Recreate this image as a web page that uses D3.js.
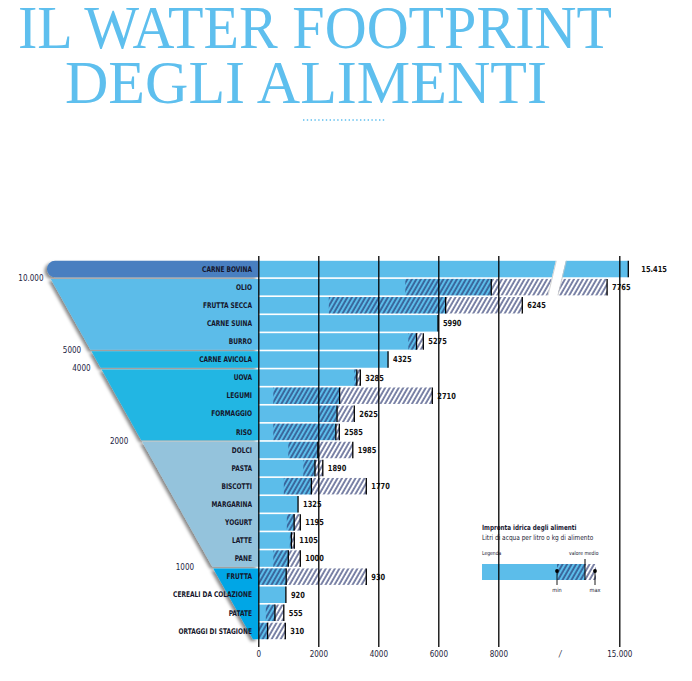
<!DOCTYPE html>
<html>
<head>
<meta charset="utf-8">
<script src="https://cdn.jsdelivr.net/npm/d3@7"></script>
<style>
  body { margin: 0; background: #fff; }
  svg { display: block; }
</style>
</head>
<body>
<div id="chart"></div>
<script>
// Water footprint degli alimenti – litri di acqua per litro o kg di alimento

const FOODS = [
  "CARNE BOVINA", "OLIO", "FRUTTA SECCA", "CARNE SUINA", "BURRO", "CARNE AVICOLA",
  "UOVA", "LEGUMI", "FORMAGGIO", "RISO", "DOLCI", "PASTA", "BISCOTTI", "MARGARINA",
  "YOGURT", "LATTE", "PANE", "FRUTTA", "CEREALI DA COLAZIONE", "PATATE", "ORTAGGI DI STAGIONE"
];
// valore medio
const MEDIO = [15415, 7765, 6245, 5990, 5275, 4325, 3285, 2710, 2625, 2585, 1985, 1890, 1770,
               1325, 1195, 1105, 1000, 930, 920, 555, 310];
// min / max (null = nessuna forbice)
const MIN_V = [null, 4900, 2350, null, 5000, null, 3200, 500, 2000, 500, 1000, 1500, 850,
               null, 950, 1050, 500, 0, null, 250, 20];
const MAX_V = [null, 14000, 8800, null, 5500, null, 3400, 5800, 3200, 2700, 3150, 2150, 3600,
               null, 1400, 1200, 1400, 3600, null, 850, 900];

const AXIS_TICKS = [0, 2000, 4000, 6000, 8000, 15000];

// imbuto a sinistra: riga di inizio di ogni fascia, colore, soglia
const FUNNEL_START  = [0, 1, 5, 6, 10, 17];
const FUNNEL_COLORS = ["#4a7fc0", "#5bbce9", "#22b6e3", "#22b6e3", "#94c3dc", "#00a6e6"];
const FUNNEL_LABELS = [null, "10.000", "5000", "4000", "2000", "1000"];

const TITLE = ["IL WATER FOOTPRINT", "DEGLI ALIMENTI"];

const BAR_BLUE = "#5cbdea";
const HATCH = "#24316c";
const SANS = "'Liberation Sans Narrow','DejaVu Sans Condensed','Roboto Condensed',Roboto,sans-serif";

const itFmt = d3.formatLocale({ decimal: ",", thousands: ".", grouping: [3], currency: ["€", ""] }).format(",");
const fmt = v => v >= 10000 ? itFmt(v) : String(v);

const W = 692, H = 681;
const svg = d3.select("#chart").append("svg").attr("width", W).attr("height", H);

// testo "condensato": scala orizzontale attorno al punto di ancoraggio
const narrow = (sel, sx) => sel.attr("transform", function () {
  const t = d3.select(this);
  const tx = +t.attr("x"), ty = +t.attr("y");
  return `translate(${tx},${ty}) scale(${sx},1) translate(${-tx},${-ty})`;
});

/* ── defs: hatch + shadow ── */
const defs = svg.append("defs");
defs.append("pattern").attr("id", "hatch").attr("patternUnits", "userSpaceOnUse")
  .attr("width", 3.9).attr("height", 6).attr("patternTransform", "rotate(30)")
  .append("line").attr("x1", 1).attr("x2", 1).attr("y1", 0).attr("y2", 6)
  .attr("stroke", HATCH).attr("stroke-width", 1.2);
const sh = defs.append("filter").attr("id", "shadow").attr("x", "-10%").attr("y", "-10%")
  .attr("width", "120%").attr("height", "120%");
sh.append("feDropShadow").attr("dx", -2.5).attr("dy", 2).attr("stdDeviation", 1.8)
  .attr("flood-color", "#000").attr("flood-opacity", 0.45);

/* ── title ── */
const title = svg.append("g").attr("font-family", "'Liberation Serif','DejaVu Serif',serif")
  .attr("fill", "#5ebfee").attr("font-size", 61);
title.append("text").attr("x", 18).attr("y", 48).attr("textLength", 594)
  .attr("lengthAdjust", "spacingAndGlyphs").text(TITLE[0]);
title.append("text").attr("x", 65).attr("y", 103).attr("textLength", 482)
  .attr("lengthAdjust", "spacingAndGlyphs").text(TITLE[1]);
svg.append("line").attr("x1", 303).attr("x2", 386).attr("y1", 120).attr("y2", 120)
  .attr("stroke", "#5ebfee").attr("stroke-width", 1.6).attr("stroke-dasharray", "1.4 2.4");

/* ── scales ── */
const x = d3.scaleLinear()               // asse spezzato dopo 10.000
  .domain([0, 10000, 15000, 16000])
  .range([258.3, 558.3, 619.3, 641]);
const y = d3.scaleBand().domain(FOODS).range([260, 640]).paddingInner(0.09).paddingOuter(0.045);
const bw = y.bandwidth();

const rows = FOODS.map((f, i) => ({ food: f, medio: MEDIO[i], min: MIN_V[i], max: MAX_V[i] }));

/* ── funnel ── */
const edgeX = yy => 52 + (yy - 281) * 0.561;
const labelX = yy => 44 + (yy - 279) * 0.52;
const funnel = svg.append("g").attr("filter", "url(#shadow)");
FUNNEL_START.forEach((start, gi) => {
  const end = gi + 1 < FUNNEL_START.length ? FUNNEL_START[gi + 1] : FOODS.length;
  const top = y(FOODS[start]);
  const bot = y(FOODS[end - 1]) + bw;
  const x0 = x(0);
  let d;
  if (gi === 0) {
    const r = 8, l = 47;
    d = `M${x0},${top}H${l + r}A${r},${r} 0 0 0 ${l},${top + r}V${bot - r}A${r},${r} 0 0 0 ${l + r},${bot}H${x0}Z`;
  } else {
    d = `M${edgeX(top)},${top}H${x0}V${bot}H${edgeX(bot)}Z`;
  }
  funnel.append("path").attr("d", d).attr("fill", FUNNEL_COLORS[gi]);
});
// soglie
FUNNEL_START.forEach((start, gi) => {
  if (!FUNNEL_LABELS[gi]) return;
  const yy = y(FOODS[start]) - (y.step() - bw) / 2;
  svg.append("text").attr("x", labelX(yy)).attr("y", yy).attr("dy", "0.35em")
    .attr("text-anchor", "end").attr("font-family", SANS).attr("font-size", 8)
    .attr("fill", "#23233f").text(FUNNEL_LABELS[gi]);
});

/* ── food labels ── */
svg.append("g").attr("font-family", SANS).attr("font-size", 7.8).attr("font-weight", "bold")
  .attr("fill", "#15152a").attr("text-anchor", "end")
  .selectAll("text").data(rows).join("text")
  .attr("x", 252).attr("y", d => y(d.food) + bw / 2 + 2.7)
  .text(d => d.food)
  .call(narrow, 0.84);

/* ── bars ── */
const bars = svg.append("g");
rows.forEach(d => {
  const yy = y(d.food);
  bars.append("rect").attr("x", x(0)).attr("y", yy).attr("width", x(d.medio) - x(0))
    .attr("height", bw).attr("fill", BAR_BLUE);
  if (d.min != null) {
    bars.append("rect").attr("x", x(d.min)).attr("y", yy).attr("width", x(d.medio) - x(d.min))
      .attr("height", bw).attr("fill", "url(#hatch)");
    bars.append("rect").attr("x", x(d.medio)).attr("y", yy).attr("width", x(d.max) - x(d.medio))
      .attr("height", bw).attr("fill", "url(#hatch)");
    bars.append("line").attr("x1", x(d.max)).attr("x2", x(d.max))
      .attr("y1", yy).attr("y2", yy + bw).attr("stroke", "#000").attr("stroke-width", 1.3);
  }
  bars.append("line").attr("x1", x(d.medio)).attr("x2", x(d.medio))
    .attr("y1", yy).attr("y2", yy + bw).attr("stroke", "#000").attr("stroke-width", 1.3);
});

/* ── break in scale ── */
const yb0 = y(FOODS[0]) - 2, yb1 = y(FOODS[1]) + bw + 1, xb = x(10000) - 2;
svg.append("path")
  .attr("d", `M${xb},${yb0}L${xb + 10},${yb0}L${xb + 1},${yb1}L${xb - 9},${yb1}Z`)
  .attr("fill", "#fff");
svg.append("g").attr("stroke", "#c8c8c8").attr("stroke-width", 0.8)
  .selectAll("line").data([0, 10]).join("line")
  .attr("x1", o => xb + o).attr("y1", y(FOODS[0]))
  .attr("x2", o => xb + o - 9 * (bw + y.step()) / (yb1 - yb0)).attr("y2", y(FOODS[1]) + bw);

/* ── value labels ── */
svg.append("g").attr("font-family", SANS).attr("font-size", 8.4).attr("font-weight", "bold")
  .attr("fill", "#111")
  .selectAll("text").data(rows).join("text")
  .attr("x", d => x(d.max != null ? d.max : d.medio) + (d.medio >= 10000 ? 13 : 5))
  .attr("y", d => y(d.food) + bw / 2 + 2.9)
  .text(d => fmt(d.medio))
  .call(narrow, 0.88);

/* ── legend ── */
const lg = svg.append("g").attr("font-family", SANS).attr("fill", "#1a1a33");
lg.append("text").attr("x", 482).attr("y", 530).attr("font-size", 7.2).attr("font-weight", "bold")
  .text("Impronta idrica degli alimenti").call(narrow, 0.87);
lg.append("text").attr("x", 482).attr("y", 540).attr("font-size", 7.2)
  .text("Litri di acqua per litro o kg di alimento").call(narrow, 0.9);
lg.append("text").attr("x", 482).attr("y", 555).attr("font-size", 5.6).text("Legenda").call(narrow, 0.9);
lg.append("text").attr("x", 569).attr("y", 555).attr("font-size", 5.6).text("valore medio").call(narrow, 0.9);
lg.append("rect").attr("x", 482).attr("y", 564).attr("width", 103).attr("height", 16).attr("fill", BAR_BLUE);
lg.append("rect").attr("x", 557).attr("y", 564).attr("width", 39).attr("height", 16).attr("fill", "url(#hatch)");
lg.append("line").attr("x1", 585).attr("x2", 585).attr("y1", 559).attr("y2", 580)
  .attr("stroke", "#000").attr("stroke-width", 1);
[[557, "min"], [595, "max"]].forEach(([lx, t]) => {
  lg.append("circle").attr("cx", lx).attr("cy", 571).attr("r", 1.9).attr("fill", "#000");
  lg.append("line").attr("x1", lx).attr("x2", lx).attr("y1", 571).attr("y2", 585)
    .attr("stroke", "#000").attr("stroke-width", 0.9);
  lg.append("text").attr("x", lx).attr("y", 592).attr("text-anchor", "middle")
    .attr("font-size", 5.6).text(t);
});

/* ── axis + grid (sopra le barre) ── */
const axisY = 647;
svg.append("g").attr("transform", `translate(0,${axisY})`)
  .call(d3.axisBottom(x).tickValues(AXIS_TICKS).tickSize(-(axisY - 256)).tickPadding(4).tickFormat(fmt))
  .call(ax => ax.select(".domain").remove())
  .call(ax => ax.selectAll(".tick line").attr("stroke", "#000").attr("stroke-width", 1.3))
  .call(ax => ax.selectAll(".tick text").attr("font-family", SANS).attr("font-size", 8)
    .attr("fill", "#1d1d3a"));
svg.append("text").attr("x", x(10000) + 2).attr("y", axisY + 4).attr("dy", "0.71em")
  .attr("text-anchor", "middle").attr("font-family", SANS).attr("font-size", 8)
  .attr("font-style", "italic").attr("fill", "#1d1d3a").text("/");
</script>
</body>
</html>
